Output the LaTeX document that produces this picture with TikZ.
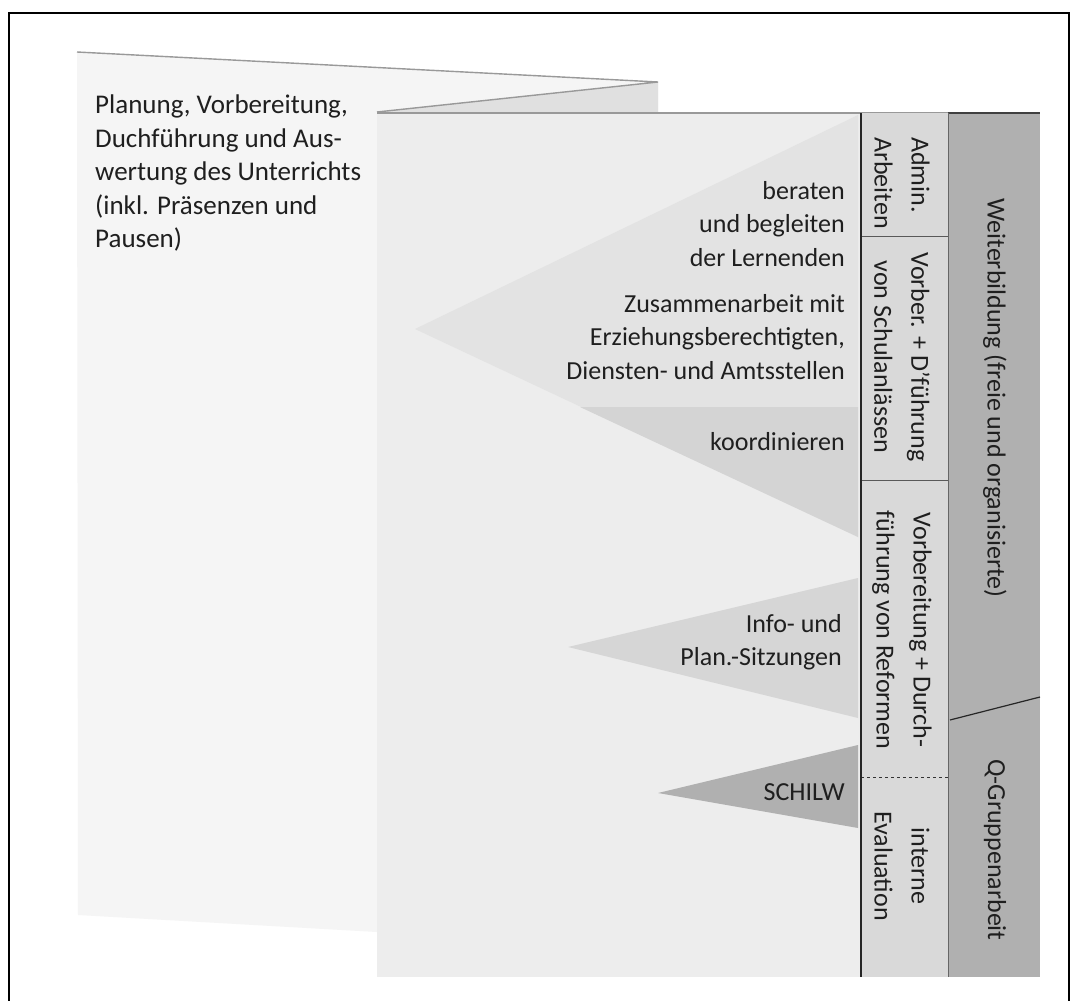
\documentclass[tikz,border=0pt]{standalone}
\usepackage{fontspec}
\setmainfont{Carlito}
\begin{document}
\begin{tikzpicture}[x=1pt,y=-1pt,
  txt/.style={inner sep=0pt, text=black!88, font=\fontsize{26}{33.5}\selectfont},
  coltxt/.style={txt, rotate=-90, font=\fontsize{26}{37}\selectfont},
  edge/.style={draw=black!40, line width=1.4pt}]
\useasboundingbox (0,0) rectangle (1080,1001);
\fill[white] (0,0) rectangle (1080,1001);
% frame
\draw[line width=1.5pt] (9,1001) -- (9,13) -- (1069,13) -- (1069,1001);
% back panel
\fill[black!4] (77,52) -- (658,82) -- (658,112) -- (377,112) -- (377,932) -- (78,915) -- cycle;
\fill[black!12] (658,82) -- (377,112) -- (658,112) -- cycle;
\draw[edge] (77,52) -- (658,82) -- (377,112);
% front page
\fill[black!7] (377,112) rectangle (861,977);
\draw[edge] (377,113) -- (1040,113);
% triangles
\fill[black!11] (415,329) -- (858,115) -- (858,537) -- cycle;
\fill[black!17] (580,407) -- (858,407) -- (858,537) -- cycle;
\fill[black!16] (568,647) -- (858,578) -- (858,718) -- cycle;
\fill[black!31] (658,793) -- (858,745) -- (858,828) -- cycle;
% columns
\fill[black!15] (861,113) rectangle (948,977);
\fill[black!31] (948,113) rectangle (1040,977);
\draw[line width=1.5pt, black!75] (948,113) -- (1040,113);
\draw[line width=0.8pt, black!60] (948,113) -- (948,977);
\draw[line width=0.8pt, black!65] (861,236) -- (948,236);
\draw[line width=0.8pt, black!65] (861,480) -- (948,480);
\draw[line width=0.9pt, dashed, black!80] (861,777) -- (948,777);
\draw[line width=1.2pt, black!85] (950,720) -- (1040,697);
\draw[line width=1.5pt, black!85] (861,113) -- (861,977);
% texts
\node[txt, anchor=north west, align=left, font=\fontsize{27}{33.5}\selectfont] (plan) at (95,95)
  {Planung, Vorbereitung,\\Duchführung und Aus-\\wertung des Unterrichts\\(inkl. Präsenzen und\\Pausen)};
\node[txt, anchor=north east, align=right] (berat) at (845,181)
  {beraten\\und begleiten\\der Lernenden};
\node[txt, anchor=north east, align=right] (zus) at (845,294)
  {Zusammenarbeit mit\\Erziehungsberechtigten,\\Diensten- und Amtsstellen};
\node[txt, anchor=base east] (koord) at (845,450) {koordinieren};
\node[txt, anchor=north east, align=right] (info) at (842,614)
  {Info- und\\Plan.-Sitzungen};
\node[txt, anchor=base east] (schilw) at (845,800) {SCHILW};
\node[coltxt, anchor=west, align=left] (admin) at (902,137) {Admin.\\Arbeiten};
\node[coltxt, align=center] (vorber) at (902,357) {Vorber. + D'führung\\von Schulanlässen};
\node[coltxt, align=center] (reform) at (902,630) {Vorbereitung + Durch-\\führung von Reformen};
\node[coltxt, align=center] (eval) at (902,866) {interne\\Evaluation};
\node[coltxt] (weiter) at (995,398) {Weiterbildung (freie und organisierte)};
\node[coltxt] (qgr) at (995,850) {Q-Gruppenarbeit};
\end{tikzpicture}
\end{document}
